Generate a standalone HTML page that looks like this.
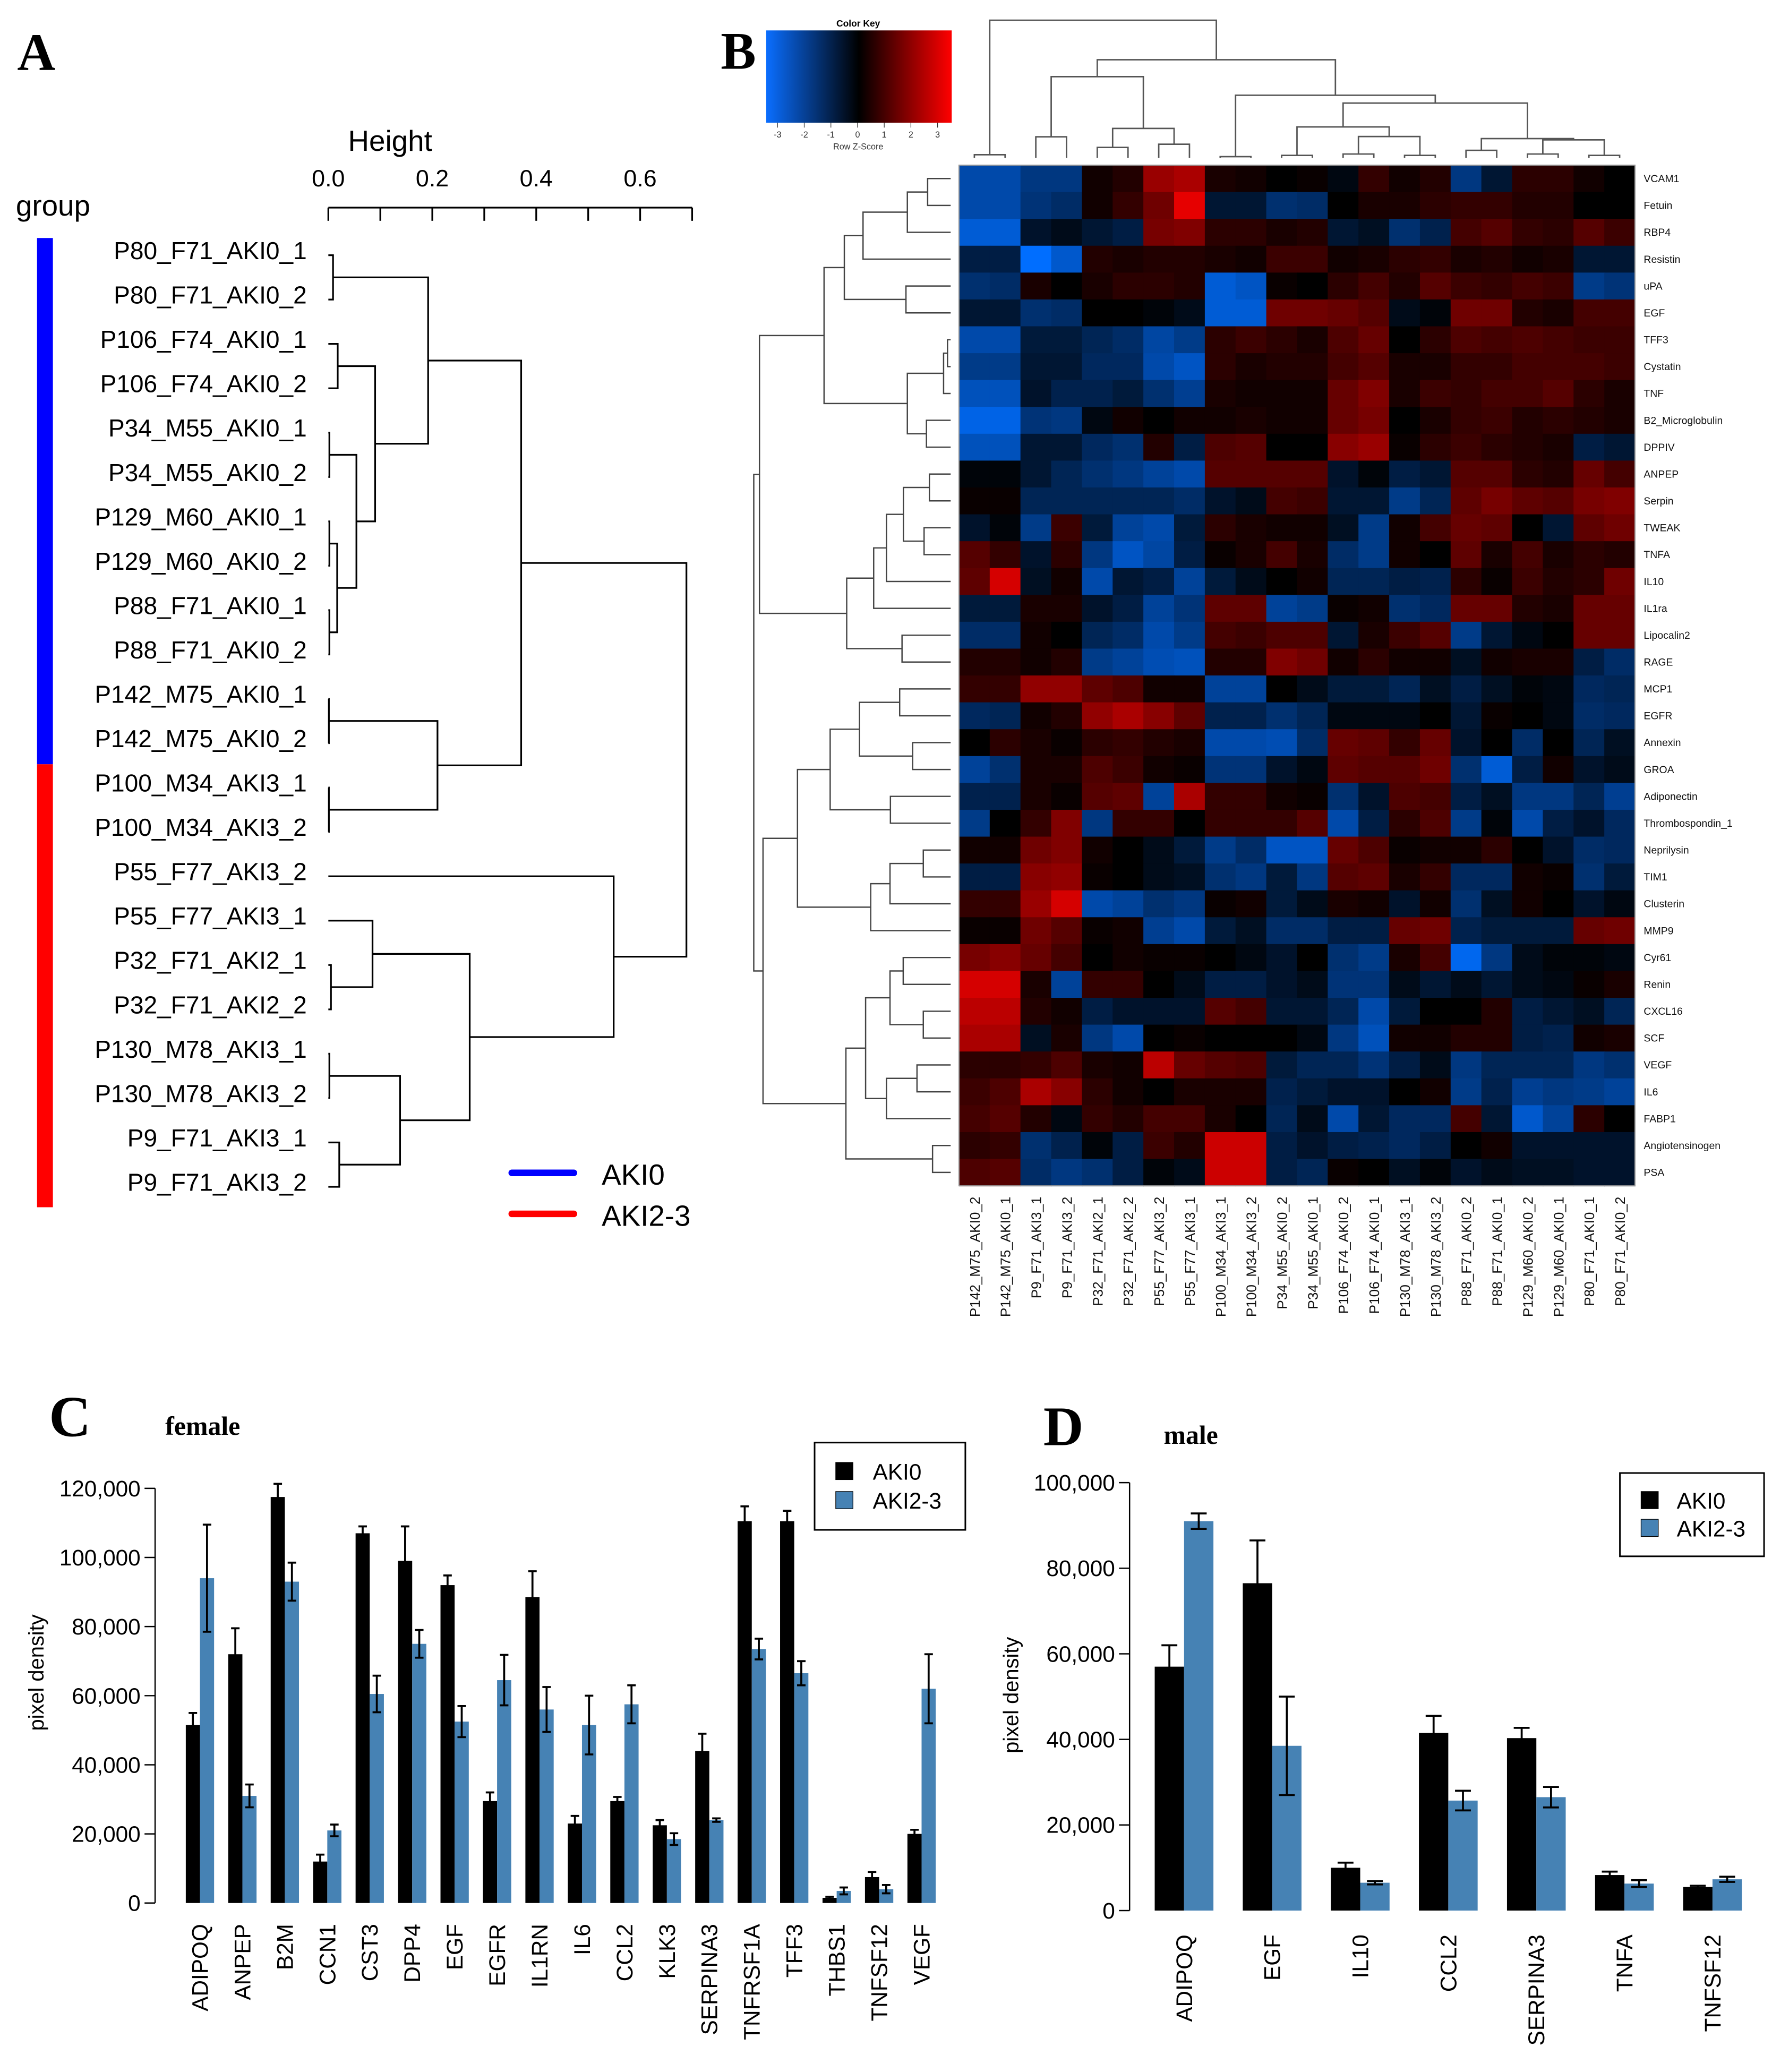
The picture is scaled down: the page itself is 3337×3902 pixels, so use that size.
<!DOCTYPE html>
<html><head><meta charset="utf-8"><style>
html,body{margin:0;padding:0;background:#fff}
svg{display:block}
text{font-family:"Liberation Sans",sans-serif}
.serif{font-family:"Liberation Serif",serif;font-weight:bold}
</style></head><body>
<svg id="fig" xmlns="http://www.w3.org/2000/svg" width="3337" height="3902" viewBox="0 0 1340 1567" preserveAspectRatio="none">
<defs><linearGradient id="keygrad" x1="0" x2="1" y1="0" y2="0">
<stop offset="0" stop-color="#0a6eff"/><stop offset="0.5" stop-color="#000"/><stop offset="1" stop-color="#ff0000"/></linearGradient></defs>
<g id="panelA">
<text class="serif" x="13" y="53" font-size="40">A</text>
<text x="295" y="114" font-size="22" text-anchor="middle">Height</text>
<text x="12" y="163" font-size="22">group</text>
<rect x="28" y="180" width="12" height="398" fill="#0000ff"/>
<rect x="28" y="578" width="12" height="335" fill="#ff0000"/>
<line x1="387" y1="887" x2="434" y2="887" stroke="#0000ff" stroke-width="5" stroke-linecap="round"/>
<text x="455" y="896" font-size="22">AKI0</text>
<line x1="387" y1="918" x2="434" y2="918" stroke="#ff0000" stroke-width="5" stroke-linecap="round"/>
<text x="455" y="927" font-size="22">AKI2-3</text>
</g>
<g id="panelB">
<text class="serif" x="545" y="52" font-size="40">B</text>
<rect x="579.4" y="23" width="140.3" height="69.8" fill="url(#keygrad)"/>
<text x="649" y="20" font-size="7" font-weight="bold" text-anchor="middle">Color Key</text>
<text x="649" y="113" font-size="6.5" text-anchor="middle" fill="#333">Row Z-Score</text>
</g>
<g id="panelC">
<text class="serif" x="37" y="1086" font-size="44">C</text>
<text class="serif" x="125" y="1085" font-size="20">female</text>
<text transform="translate(33,1265) rotate(-90)" font-size="16" text-anchor="middle">pixel density</text>
</g>
<g id="panelD">
<text class="serif" x="789" y="1093" font-size="42">D</text>
<text class="serif" x="880" y="1092" font-size="20">male</text>
<text transform="translate(770,1282) rotate(-90)" font-size="16" text-anchor="middle">pixel density</text>
</g>
</svg>
<script>
// ---------- Panel A data ----------
const leafLabelsA = ["P80_F71_AKI0_1","P80_F71_AKI0_2","P106_F74_AKI0_1","P106_F74_AKI0_2","P34_M55_AKI0_1","P34_M55_AKI0_2","P129_M60_AKI0_1","P129_M60_AKI0_2","P88_F71_AKI0_1","P88_F71_AKI0_2","P142_M75_AKI0_1","P142_M75_AKI0_2","P100_M34_AKI3_1","P100_M34_AKI3_2","P55_F77_AKI3_2","P55_F77_AKI3_1","P32_F71_AKI2_1","P32_F71_AKI2_2","P130_M78_AKI3_1","P130_M78_AKI3_2","P9_F71_AKI3_1","P9_F71_AKI3_2"];
const mergesA = [[-1,-2,0.009],[-3,-4,0.018],[-5,-6,0.002],[-7,-8,0.002],[-9,-10,0.002],[4,5,0.017],[3,6,0.054],[2,7,0.090],[1,8,0.192],[-11,-12,0.001],[-13,-14,0.001],[10,11,0.21],[9,12,0.371],[-17,-18,0.005],[-16,14,0.085],[-19,-20,0.002],[-21,-22,0.021],[16,17,0.138],[15,18,0.272],[-15,19,0.549],[13,20,0.689]];
const heightTicks = [0,0.1,0.2,0.3,0.4,0.5,0.6,0.7];
const heightTickLabels = ["0.0","","0.2","","0.4","","0.6",""];

// ---------- Panel B data ----------
const rowLabels = ["VCAM1","Fetuin","RBP4","Resistin","uPA","EGF","TFF3","Cystatin","TNF","B2_Microglobulin","DPPIV","ANPEP","Serpin","TWEAK","TNFA","IL10","IL1ra","Lipocalin2","RAGE","MCP1","EGFR","Annexin","GROA","Adiponectin","Thrombospondin_1","Neprilysin","TIM1","Clusterin","MMP9","Cyr61","Renin","CXCL16","SCF","VEGF","IL6","FABP1","Angiotensinogen","PSA"];
const colLabels = ["P142_M75_AKI0_2","P142_M75_AKI0_1","P9_F71_AKI3_1","P9_F71_AKI3_2","P32_F71_AKI2_1","P32_F71_AKI2_2","P55_F77_AKI3_2","P55_F77_AKI3_1","P100_M34_AKI3_1","P100_M34_AKI3_2","P34_M55_AKI0_2","P34_M55_AKI0_1","P106_F74_AKI0_2","P106_F74_AKI0_1","P130_M78_AKI3_1","P130_M78_AKI3_2","P88_F71_AKI0_2","P88_F71_AKI0_1","P129_M60_AKI0_2","P129_M60_AKI0_1","P80_F71_AKI0_1","P80_F71_AKI0_2"];
const zScores = [
[-2,-2,-1.5,-1.5,0.2,0.4,1.8,2,0.3,0.2,0,0.1,-0.2,0.6,0.2,0.4,-1.5,-0.6,0.5,0.5,0.2,0],
[-2,-2,-1.4,-1.2,0.2,0.6,1.3,2.7,-0.6,-0.6,-1.3,-1.2,0,0.3,0.3,0.5,0.6,0.6,0.4,0.4,0,0],
[-2.5,-2.5,-0.5,-0.3,-0.6,-0.8,1.4,1.5,0.5,0.5,0.3,0.4,-0.6,-0.4,-1.3,-0.9,0.8,1,0.6,0.5,1,0.7],
[-0.8,-0.8,-3,-2.4,0.4,0.3,0.4,0.4,0.3,0.2,0.7,0.7,0.2,0.3,0.5,0.6,0.3,0.4,0.2,0.3,-0.6,-0.6],
[-1.3,-1.2,0.3,0,0.3,0.5,0.5,0.4,-2.5,-2.3,0.1,0,0.5,0.8,0.4,1,0.7,0.6,0.8,0.7,-1.6,-1.4],
[-0.6,-0.6,-1.3,-1.2,0,0,-0.1,-0.3,-2.5,-2.5,1.3,1.3,1.2,1,-0.3,-0.1,1.3,1.3,0.4,0.3,0.8,0.8],
[-2,-2,-0.7,-0.7,-1,-1.2,-1.9,-1.6,0.5,0.7,0.5,0.3,0.9,1.2,0,0.5,0.9,0.8,0.9,0.8,0.7,0.7],
[-1.6,-1.6,-0.6,-0.6,-1.1,-1.1,-2,-2.3,0.5,0.3,0.4,0.4,0.8,1,0.3,0.3,0.6,0.6,0.8,0.8,0.8,0.7],
[-2.2,-2.2,-0.5,-0.9,-0.9,-0.7,-1.3,-1.7,0.3,0.2,0.2,0.2,1.2,1.5,0.3,0.7,0.6,0.8,0.8,1,0.5,0.3],
[-2.7,-2.7,-1.4,-1.5,-0.2,0.2,0,0.2,0.2,0.3,0.2,0.2,1.2,1.4,0,0.3,0.6,0.7,0.4,0.5,0.4,0.3],
[-2.2,-2.2,-0.6,-0.6,-1.1,-1.3,0.4,-0.8,0.9,1,0,0,1.6,1.8,0.1,0.5,0.7,0.5,0.4,0.3,-0.8,-0.6],
[-0.1,-0.1,-0.6,-1,-1.3,-1.5,-1.8,-2,1,1,1,1,-0.5,-0.1,-0.8,-0.6,1,1,0.5,0.4,1.2,0.8],
[0.1,0.1,-1,-1,-1,-1,-1,-1.2,-0.5,-0.3,0.8,0.7,-0.6,-0.6,-1.6,-1,1.1,1.4,1.1,1,1.4,1.5],
[-0.5,-0.1,-1.6,0.7,-0.7,-1.8,-2,-0.7,0.5,0.3,0.2,0.2,-0.4,-1.6,0.2,0.8,1.2,1.1,0,-0.6,1.1,1.3],
[1,0.6,-0.5,0.5,-1.5,-2.3,-1.9,-0.8,0.1,0.3,0.8,0.3,-1.2,-1.6,0.2,0,1.1,0.3,0.8,0.3,0.5,0.4],
[1.1,2.5,-0.4,0.2,-2,-0.6,-0.8,-1.8,-0.7,-0.3,0,0.2,-1,-1,-0.8,-0.9,0.5,0.1,0.7,0.4,0.5,1.3],
[-0.7,-0.7,0.3,0.3,-0.5,-0.8,-1.8,-1.4,1.1,1.1,-1.8,-1.6,0.1,0.2,-1.3,-1.1,1.2,1.2,0.4,0.3,1.2,1.2],
[-1.2,-1.2,0.2,0,-1,-1.2,-2,-1.6,0.8,0.7,0.9,0.9,-0.6,0.3,0.7,1,-1.6,-0.6,-0.2,0,1.2,1.2],
[0.4,0.4,0.2,0.4,-1.6,-1.8,-2.1,-2.2,0.4,0.4,1.5,1.3,0.2,0.5,0.2,0.2,-0.4,0.2,0.3,0.3,-0.8,-1.2],
[0.6,0.6,1.7,1.7,1.1,0.9,0.2,0.2,-1.8,-1.8,0,-0.3,-0.7,-0.7,-1,-0.4,-0.8,-0.4,-0.1,-0.2,-1.1,-1],
[-1.1,-1,0.2,0.4,1.7,2,1.6,1.1,-0.9,-0.9,-1.3,-1,-0.2,-0.2,-0.2,0,-0.6,0.1,0,-0.2,-1.2,-1.1],
[0,0.5,0.3,0.1,0.5,0.6,0.4,0.3,-2,-2,-2.1,-1.2,1.2,1.1,0.6,1.2,-0.5,0,-1.2,0,-1,-0.4],
[-1.8,-1.3,0.3,0.3,0.9,0.7,0.2,0.1,-1.4,-1.4,-0.5,-0.2,1.1,1,1,1.3,-1.3,-2.5,-0.8,0.2,-0.5,-0.3],
[-0.9,-0.9,0.3,0.1,1,1.1,-1.8,2,0.6,0.6,0.2,0.1,-1.3,-0.5,0.9,0.8,-0.8,-0.4,-1.5,-1.5,-1,-1.7],
[-1.6,0,0.6,1.5,-1.5,0.6,0.6,0,0.6,0.6,0.6,1,-2,-0.8,0.5,0.9,-1.6,-0.1,-2,-0.8,-0.5,-1.1],
[0.2,0.2,1.3,1.5,0.2,0,-0.3,-0.7,-1.6,-1.2,-2.3,-2.3,1.2,0.9,0.1,0.2,0.2,0.5,0,-0.5,-1.2,-1.1],
[-0.8,-0.8,1.6,1.7,0.1,0,-0.3,-0.4,-1.3,-1.5,-0.7,-1.5,1,1.1,0.3,0.6,-1.1,-1.1,0.2,0.1,-1.3,-0.7],
[0.6,0.6,1.8,2.5,-2,-1.8,-1.3,-1.5,0.1,0.2,-0.7,-0.3,0.3,0.2,-0.5,0.2,-1.3,-0.4,0.2,0,-0.5,-0.2],
[0.1,0.1,1.3,1,0.1,0.2,-1.7,-2,-0.7,-0.4,-1.2,-1.2,-0.8,-0.8,1.2,1.3,-0.9,-0.7,-0.7,-0.7,1.2,1.3],
[1.4,1.6,1.2,0.8,0,0.2,0.1,0.1,0,-0.2,-0.5,0,-1.3,-1.6,0.3,0.8,-2.8,-1.5,-0.3,-0.1,-0.1,-0.2],
[2.5,2.5,0.3,-1.8,0.6,0.6,0,-0.3,-0.8,-0.8,-0.5,-0.3,-1.4,-1.4,-0.3,-0.6,-0.3,-0.6,-0.3,-0.2,0.1,0.3],
[2.2,2.2,0.4,0.2,-0.8,-0.5,-0.5,-0.5,1,0.8,-0.6,-0.6,-1,-2,-0.7,0,0,0.4,-0.8,-0.6,-0.4,-1],
[2,2,-0.4,0.3,-1.5,-2,0,0.1,0,0,0,-0.2,-1.5,-2.2,0.2,0.2,0.4,0.4,-0.8,-0.9,0.2,0.3],
[0.5,0.5,0.6,0.9,0.3,0.2,2.2,1.2,1,0.9,-0.7,-1,-1,-1.4,-0.8,-0.3,-1.5,-1,-1,-1,-1.5,-1.3],
[0.7,0.9,2,1.6,0.5,0.2,0,0.3,0.3,0.3,-0.9,-0.7,-0.5,-0.5,0,0.2,-1.6,-0.9,-1.7,-1.5,-1.6,-1.8],
[0.8,1,0.4,-0.2,0.6,0.4,0.8,0.8,0.3,0,-1,-0.3,-2,-0.6,-1.1,-1.1,0.8,-0.6,-2.4,-1.8,0.5,0],
[0.5,0.6,-1.3,-0.9,-0.1,-0.8,0.7,0.4,2.4,2.4,-0.8,-0.5,-0.8,-0.9,-1.1,-0.8,0,0.2,-0.5,-0.5,-0.5,-0.5],
[0.9,1,-1.2,-1.5,-1.3,-0.8,-0.1,-0.3,2.4,2.4,-0.8,-1,0.1,0,-0.4,-0.1,-0.5,-0.3,-0.4,-0.4,-0.5,-0.5]];
const rowMerges = [[-1,-2,0.117],[1,-3,0.220],[2,-4,0.445],[-5,-6,0.227],[3,4,0.540],[-7,-8,0.016],[6,-9,0.036],[-10,-11,0.123],[7,8,0.220],[5,9,0.643],[-12,-13,0.108],[-14,-15,0.135],[11,12,0.240],[13,-16,0.326],[14,-17,0.391],[-18,-19,0.247],[15,16,0.528],[10,17,0.971],[-20,-21,0.259],[-22,-23,0.193],[19,20,0.463],[-24,-25,0.306],[21,22,0.612],[-26,-27,0.139],[24,-28,0.308],[25,-29,0.406],[23,26,0.778],[-30,-31,0.241],[-32,-33,0.139],[28,29,0.308],[-34,-35,0.171],[31,-36,0.326],[30,32,0.432],[-37,-38,0.092],[33,34,0.532],[27,35,0.953],[18,36,1.0]];
const colMerges = [[-1,-2,0.023],[-3,-4,0.153],[-5,-6,0.076],[-7,-8,0.099],[3,4,0.214],[2,5,0.590],[-9,-10,0.009],[-11,-12,0.018],[-13,-14,0.028],[-15,-16,0.018],[9,10,0.155],[8,11,0.225],[-17,-18,0.055],[-19,-20,0.028],[-21,-22,0.018],[14,15,0.131],[13,16,0.140],[12,17,0.398],[7,18,0.455],[6,19,0.713],[1,20,1.0]];
const keyTicks = [-3,-2,-1,0,1,2,3];

// ---------- Panel C data ----------
const catsC = ["ADIPOQ","ANPEP","B2M","CCN1","CST3","DPP4","EGF","EGFR","IL1RN","IL6","CCL2","KLK3","SERPINA3","TNFRSF1A","TFF3","THBS1","TNFSF12","VEGF"];
const aki0C = [51500,72000,117500,12000,107000,99000,92000,29500,88500,23000,29500,22500,44000,110500,110500,1500,7500,20000];
const aki0ErrC = [3500,7500,3800,2000,2000,10000,2800,2500,7500,2200,1200,1500,5000,4300,3000,300,1500,1200];
const aki23C = [94000,31000,93000,21000,60500,75000,52500,64500,56000,51500,57500,18500,24000,73500,66500,3500,4000,62000];
const aki23ErrC = [15500,3300,5500,1700,5300,4000,4500,7300,6500,8500,5500,1700,500,3000,3500,1000,1200,10000];
const ticksC = [0,20000,40000,60000,80000,100000,120000];

// ---------- Panel D data ----------
const catsD = ["ADIPOQ","EGF","IL10","CCL2","SERPINA3","TNFA","TNFSF12"];
const aki0D = [57000,76500,10000,41500,40300,8300,5500];
const aki0ErrD = [5000,10000,1200,4000,2400,800,300];
const aki23D = [91000,38500,6500,25700,26500,6300,7300];
const aki23ErrD = [1800,11500,400,2300,2400,800,600];
const ticksD = [0,20000,40000,60000,80000,100000];

const NS = "http://www.w3.org/2000/svg";
function mk(tag, attrs, parent, txt){
  const e = document.createElementNS(NS, tag);
  for (const k in attrs) e.setAttribute(k, attrs[k]);
  if (txt !== undefined) e.textContent = txt;
  parent.appendChild(e);
  return e;
}
const fmt = v => v.toLocaleString("en-US");

function dendro(parent, merges, pos, hc, vertical, stroke, sw, name){
  const np = [], nh = [];
  const P = i => i < 0 ? pos(-i-1) : np[i-1];
  const H = i => i < 0 ? 0 : nh[i-1];
  merges.forEach((m, k) => {
    const pa = P(m[0]), pb = P(m[1]), h = m[2];
    np.push((pa+pb)/2); nh.push(h);
    let d;
    if (!vertical) d = `M${hc(H(m[0]))},${pa}H${hc(h)}V${pb}H${hc(H(m[1]))}`;
    else d = `M${pa},${hc(H(m[0]))}V${hc(h)}H${pb}V${hc(H(m[1]))}`;
    const el = mk("path", {d: d, fill: "none", stroke: stroke, "stroke-width": sw}, parent);
    
    
  });
}

// ---------- Panel A ----------
const gA = document.getElementById("panelA");
const xA = h => 248.3 + h*393;
const yLeafA = i => 193 + i*33.55;
mk("line", {x1: xA(0), y1: 157, x2: xA(0.7), y2: 157, stroke: "#000", "stroke-width": 1.3}, gA);
heightTicks.forEach((t, i) => {
  const l = mk("line", {x1: xA(t), y1: 157, x2: xA(t), y2: 167, stroke: "#000", "stroke-width": 1.3}, gA);
  
  
  if (heightTickLabels[i]) {
    const tx = mk("text", {x: xA(t), y: 141, "font-size": 18, "text-anchor": "middle"}, gA, heightTickLabels[i]);
    
    
  }
});
leafLabelsA.forEach((s, i) => {
  const tx = mk("text", {x: 232, y: yLeafA(i)+3, "font-size": 18.5, "text-anchor": "end"}, gA, s);
  
  
});
dendro(gA, mergesA, yLeafA, xA, false, "#000", 1.3, "sample-dendrogram");

// ---------- Panel B ----------
const gB = document.getElementById("panelB");
const hmX0 = 725.2, hmX1 = 1236.4, hmY0 = 124.9, hmY1 = 896.8;
const cw = (hmX1-hmX0)/colLabels.length, rh = (hmY1-hmY0)/rowLabels.length;
function zcol(v){
  v = Math.max(-3, Math.min(3, v)); const t = Math.abs(v)/3;
  return v < 0 ? `rgb(0,${Math.round(110*t)},${Math.round(255*t)})` : `rgb(${Math.round(255*t)},0,0)`;
}
zScores.forEach((row, r) => row.forEach((v, c) => {
  const cell = mk("rect", {x: hmX0 + c*cw, y: hmY0 + r*rh, width: cw+0.4, height: rh+0.4, fill: zcol(v)}, gB);
  
  
}));
mk("rect", {x: hmX0, y: hmY0, width: hmX1-hmX0, height: hmY1-hmY0, fill: "none", stroke: "#999", "stroke-width": 0.8}, gB);
rowLabels.forEach((s, r) => {
  const tx = mk("text", {x: 1243, y: hmY0 + (r+0.5)*rh + 2.7, "font-size": 7.8, fill: "#111"}, gB, s);
  
  
});
colLabels.forEach((s, c) => {
  const cx = hmX0 + (c+0.5)*cw;
  const tx = mk("text", {transform: `translate(${cx+4},905) rotate(-90)`, "font-size": 10.5, "text-anchor": "end", fill: "#111"}, gB, s);
  
  
});
dendro(gB, rowMerges, i => hmY0 + (i+0.5)*rh, h => 718.9 - h*(718.9-570), false, "#444", 1, "row-dendrogram");
dendro(gB, colMerges, i => hmX0 + (i+0.5)*cw, h => 119.4 - h*(119.4-15.3), true, "#555", 1.1, "column-dendrogram");
const keyX = v => 588 + (v+3)/6*121;
keyTicks.forEach(t => {
  const l = mk("line", {x1: keyX(t), y1: 92.8, x2: keyX(t), y2: 96.5, stroke: "#333", "stroke-width": 0.5}, gB);
  
  
  const tx = mk("text", {x: keyX(t), y: 104, "font-size": 6.5, "text-anchor": "middle", fill: "#333"}, gB, String(t));
  
  
});

// ---------- Bar chart helper ----------
function barChart(g, cfg){
  const y = v => cfg.y0 - v*cfg.yScale;
  mk("line", {x1: cfg.axisX, y1: y(0), x2: cfg.axisX, y2: y(cfg.ticks[cfg.ticks.length-1]), stroke: "#000", "stroke-width": 1}, g);
  cfg.ticks.forEach(t => {
    const l = mk("line", {x1: cfg.axisX-8, y1: y(t), x2: cfg.axisX, y2: y(t), stroke: "#000", "stroke-width": 1}, g);
    
    
    const tx = mk("text", {x: cfg.axisX-11, y: y(t)+6, "font-size": 17, "text-anchor": "end"}, g, fmt(t));
    
    
  });
  cfg.cats.forEach((c, i) => {
    const xl = cfg.x0 + i*cfg.step;
    const series = [[cfg.a, cfg.ae, "#000"], [cfg.b, cfg.be, "#4682b4"]];
    series.forEach((s, k) => {
      const x = xl + k*cfg.bw, v = s[0][i], e = s[1][i];
      const bar = mk("rect", {x: x, y: y(v), width: cfg.bw, height: y(0)-y(v), fill: s[2]}, g);
      
      
      const cx = x + cfg.bw/2, cap = Math.min(cfg.bw*0.3, 6);
      const err = mk("path", {d: `M${cx},${y(v+e)}V${y(v-e)}M${cx-cap},${y(v+e)}H${cx+cap}M${cx-cap},${y(v-e)}H${cx+cap}`, stroke: "#000", "stroke-width": 1.5, fill: "none"}, g);
      
      
    });
    const tx = mk("text", {transform: `translate(${xl+cfg.bw+6},${cfg.labelY}) rotate(-90)`, "font-size": 17, "text-anchor": "end"}, g, c);
    
    
  });
  const L = cfg.legend;
  mk("rect", {x: L.x, y: L.y, width: L.w, height: L.h, fill: "#fff", stroke: "#000", "stroke-width": 1.2}, g);
  [["AKI0", "#000"], ["AKI2-3", "#4682b4"]].forEach((e, k) => {
    const sq = mk("rect", {x: L.sx, y: L.ey[k]-7, width: 13, height: 13, fill: e[1], stroke: "#000", "stroke-width": 0.5}, g);
    
    
    const tx = mk("text", {x: L.tx, y: L.ey[k]+6, "font-size": 17}, g, e[0]);
    
    
  });
}
barChart(document.getElementById("panelC"), {
  cats: catsC, a: aki0C, ae: aki0ErrC, b: aki23C, be: aki23ErrC, ticks: ticksC,
  y0: 1439.2, yScale: 313.6/120000, axisX: 117.3, x0: 140.5, step: 32.1, bw: 10.7, labelY: 1455,
  legend: {x: 616, y: 1091, w: 114, h: 66, sx: 632, tx: 660, ey: [1113, 1135]}
});
barChart(document.getElementById("panelD"), {
  cats: catsD, a: aki0D, ae: aki0ErrD, b: aki23D, be: aki23ErrD, ticks: ticksD,
  y0: 1444.9, yScale: 323.6/100000, axisX: 854.2, x0: 873.2, step: 66.6, bw: 22.2, labelY: 1463,
  legend: {x: 1225, y: 1114, w: 109, h: 63, sx: 1241, tx: 1268, ey: [1135, 1156]}
});
</script>
</body></html>
